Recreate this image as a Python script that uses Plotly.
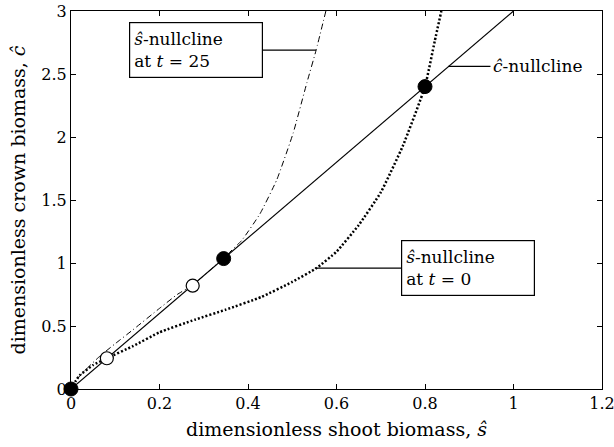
import plotly.graph_objects as go

# c-nullcline (straight line)
c_null_s = [0.0, 1.0]
c_null_c = [0.0, 3.0]

# s-nullcline at t = 0 (dotted)
t0_s = [0, 0.01, 0.02, 0.05, 0.081, 0.14, 0.2, 0.28, 0.35, 0.43, 0.5, 0.555, 0.6, 0.65, 0.7, 0.75, 0.8, 0.822, 0.837]
t0_c = [0, 0.06, 0.11, 0.19, 0.244, 0.34, 0.45, 0.55, 0.63, 0.73, 0.85, 0.96, 1.09, 1.3, 1.56, 1.93, 2.4, 2.76, 3.0]

# s-nullcline at t = 25 (dash-dot)
t25_s = [0, 0.005, 0.035, 0.065, 0.1, 0.14, 0.2, 0.24, 0.275, 0.31, 0.345, 0.386, 0.427, 0.465, 0.502, 0.533, 0.554, 0.576]
t25_c = [0, 0.045, 0.16, 0.26, 0.36, 0.47, 0.64, 0.75, 0.825, 0.93, 1.04, 1.18, 1.39, 1.66, 2.03, 2.43, 2.69, 3.0]

# equilibria
stable_s = [0.0, 0.345, 0.8]
stable_c = [0.0, 1.035, 2.4]
unstable_s = [0.081, 0.275]
unstable_c = [0.244, 0.82]

x_ticks = [0, 0.2, 0.4, 0.6, 0.8, 1.0, 1.2]
x_labels = ["0", "0.2", "0.4", "0.6", "0.8", "1", "1.2"]
y_ticks = [0, 0.5, 1, 1.5, 2, 2.5, 3]
y_labels = ["0", "0.5", "1", "1.5", "2", "2.5", "3"]

FONT = "DejaVu Serif, Liberation Serif, serif"

fig = go.Figure()
fig.add_trace(go.Scatter(x=t0_s, y=t0_c, mode="lines", line=dict(color="black", width=2.5, dash="2px,2px", shape="spline", smoothing=0.4)))
fig.add_trace(go.Scatter(x=t25_s, y=t25_c, mode="lines", line=dict(color="black", width=1, dash="6px,3px,1px,3px", shape="spline", smoothing=0.4)))
fig.add_trace(go.Scatter(x=c_null_s, y=c_null_c, mode="lines", line=dict(color="black", width=1.2)))
fig.add_trace(go.Scatter(x=unstable_s, y=unstable_c, mode="markers", cliponaxis=False,
                         marker=dict(size=13, color="white", line=dict(color="black", width=1.2))))
fig.add_trace(go.Scatter(x=stable_s, y=stable_c, mode="markers", cliponaxis=False,
                         marker=dict(size=14, color="black", line=dict(color="black", width=1))))

# labels with connectors
fig.add_annotation(x=0.554, y=2.69, ax=-120, ay=0, showarrow=True, arrowhead=0, arrowwidth=1.2, arrowcolor="black",
                   text="<i>ŝ</i>-nullcline<br>at <i>t</i> = 25", align="left", font=dict(family=FONT, size=17, color="black"),
                   bordercolor="black", borderwidth=1.2, borderpad=4, bgcolor="white", width=124, height=46)
fig.add_annotation(x=0.551, y=0.96, ax=153, ay=0, showarrow=True, arrowhead=0, arrowwidth=1.2, arrowcolor="black",
                   text="<i>ŝ</i>-nullcline<br>at <i>t</i> = 0", align="left", font=dict(family=FONT, size=17, color="black"),
                   bordercolor="black", borderwidth=1.2, borderpad=4, bgcolor="white", width=124, height=46)
fig.add_annotation(x=0.853, y=2.56, ax=89, ay=0, showarrow=True, arrowhead=0, arrowwidth=1.2, arrowcolor="black",
                   text="<i>ĉ</i>-nullcline", font=dict(family=FONT, size=17, color="black"), borderpad=2)

axis_common = dict(showline=True, linecolor="black", linewidth=1.2, mirror="allticks", ticks="inside", ticklen=5,
                   tickcolor="black", showgrid=False, zeroline=False, automargin=False, ticklabeloverflow="allow",
                   tickfont=dict(family=FONT, size=16, color="black"))
fig.update_xaxes(range=[0, 1.2], tickvals=x_ticks, ticktext=x_labels,
                 title=dict(text="dimensionless shoot biomass, <i>ŝ</i>", font=dict(family=FONT, size=19, color="black"), standoff=10),
                 **axis_common)
fig.update_yaxes(range=[0, 3], tickvals=y_ticks, ticktext=y_labels,
                 title=dict(text="dimensionless crown biomass, <i>ĉ</i>", font=dict(family=FONT, size=19, color="black"), standoff=10),
                 **axis_common)
fig.update_layout(width=614, height=447, margin=dict(l=71, r=12, t=11, b=58), showlegend=False,
                  plot_bgcolor="white", paper_bgcolor="white")
fig.write_html("out.html")
